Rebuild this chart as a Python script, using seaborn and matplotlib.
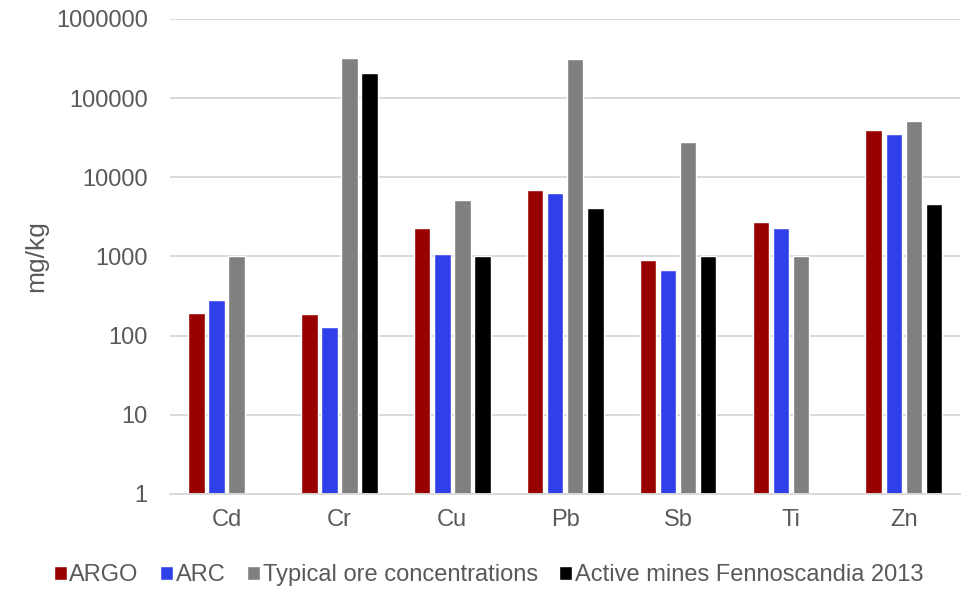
import numpy as np
import pandas as pd
import matplotlib
matplotlib.use("Agg")
import matplotlib.pyplot as plt
import seaborn as sns

elements = ["Cd", "Cr", "Cu", "Pb", "Sb", "Ti", "Zn"]
argo = [195, 187, 2265, 6840, 908, 2750, 39000]
arc = [279, 127, 1063, 6270, 673, 2300, 34800]
typical_ore = [1020, 322000, 5110, 310000, 27800, 1000, 51600]
active_mines = [np.nan, 209000, 1000, 4120, 1000, np.nan, 4550]
series_names = ["ARGO", "ARC", "Typical ore concentrations",
                "Active mines Fennoscandia 2013"]
series_colors = ["#990000", "#3040E8", "#808080", "#000000"]
y_ticks = [1, 10, 100, 1000, 10000, 100000, 1000000]

df = pd.DataFrame({
    "element": elements * 4,
    "series": np.repeat(series_names, len(elements)),
    "value": argo + arc + typical_ore + active_mines,
})

sns.set_theme(style="white")
plt.rcParams["font.family"] = ["Liberation Sans", "DejaVu Sans"]
text_color = "#595959"
grid_color = "#D9D9D9"

fig = plt.figure(figsize=(9.71, 5.9), dpi=100)
ax = fig.add_axes([0.175, 0.163, 0.814, 0.805])

sns.barplot(data=df, x="element", y="value", hue="series",
            hue_order=series_names, palette=series_colors,
            order=elements, width=0.71, gap=0.17, ax=ax,
            errorbar=None, saturation=1, legend=True)

ax.set_yscale("log")
ax.set_ylim(1, 1000000)
ax.set_yticks(y_ticks)
ax.set_yticklabels([str(t) for t in y_ticks])
ax.minorticks_off()
ax.yaxis.grid(True, color=grid_color, linewidth=1.4)
ax.set_axisbelow(True)
for s in ["top", "right", "left"]:
    ax.spines[s].set_visible(False)
ax.spines["bottom"].set_color(grid_color)
ax.spines["bottom"].set_linewidth(1.4)
ax.tick_params(axis="both", length=0, labelsize=17, colors=text_color)
ax.tick_params(axis="y", pad=16)
ax.tick_params(axis="x", pad=11)
ax.set_xlabel("")
ax.set_ylabel("mg/kg", fontsize=19, color=text_color)
ax.yaxis.set_label_coords(-0.154, 0.5)
ax.set_xlim(-0.5, len(elements) - 0.5)

handles, labels = ax.get_legend_handles_labels()
ax.legend_.remove()
fig.legend(handles, labels, loc="center", bbox_to_anchor=(0.503, 0.025),
           ncol=4, frameon=False, fontsize=17, labelcolor=text_color,
           handlelength=0.55, handleheight=0.55, handletextpad=0.12,
           columnspacing=0.9, borderaxespad=0)

fig.savefig("out.png", dpi=100)
